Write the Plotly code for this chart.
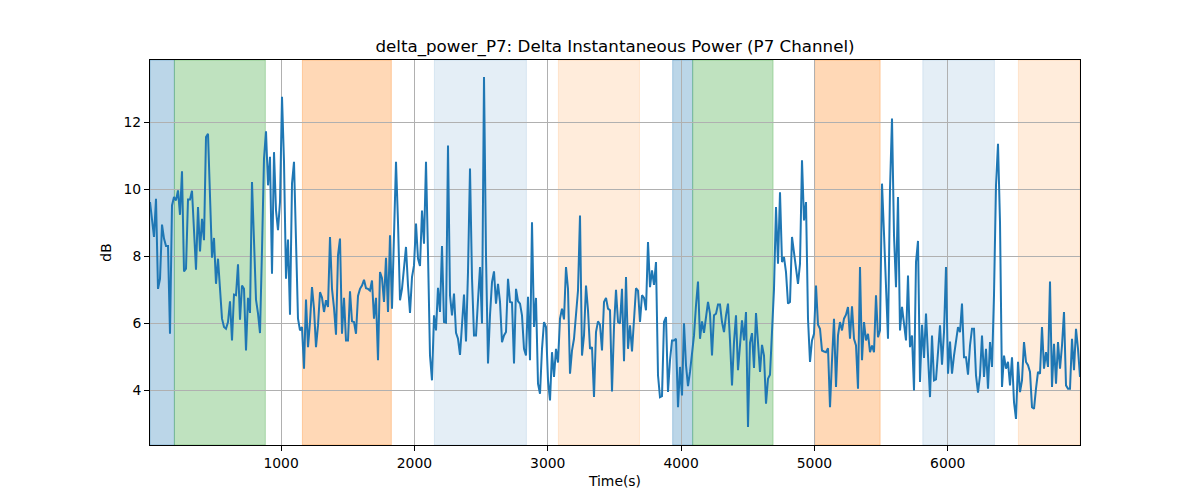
import numpy as np
import plotly.graph_objects as go

# ---- data ----
t_start = 17.0
t_step = 15.0

power_db = [
    9.62, 9.02, 8.58, 9.72, 7.03, 7.33, 8.95, 8.53, 8.31, 8.31,
    5.69, 9.52, 9.77, 9.67, 9.97, 9.24, 10.54, 7.55, 7.63, 9.70,
    9.70, 9.96, 8.8, 7.60, 9.47, 8.15, 9.12, 8.48, 11.56, 11.66,
    9.8, 7.96, 8.55, 7.18, 7.93, 7.03, 6.14, 5.89, 5.84, 6.04,
    6.66, 5.49, 6.86, 6.84, 7.76, 6.11, 7.13, 7.03, 5.19, 6.76,
    6.31, 10.22, 8.63, 6.71, 6.3, 5.71, 8.2, 10.92, 11.73, 10.12,
    # segment 2
    10.97, 7.48, 11.11, 9.37, 8.78, 9.62, 12.76, 10.82, 7.33, 8.50,
    6.26, 10.17, 10.82, 8.33, 6.14, 5.79, 5.89, 4.65, 6.71, 5.29,
    6.04, 7.08, 6.44, 5.29, 5.94, 6.93, 6.77, 6.34, 6.69, 6.49,
    8.58, 7.03, 6.46, 5.66, 8.03, 8.53, 5.69, 6.76, 5.49, 5.49,
    6.96, 6.06, 6.04, 5.69, 6.82, 7.03, 7.13, 7.30, 7.05, 7.03,
    6.98, 7.28, 6.14, 6.76, 4.90, 7.53, 7.35, 6.64, 7.96,
    # segment 3
    6.34, 8.63, 6.44, 8.53, 10.82, 9.02, 6.69, 7.03, 7.63, 8.28,
    7.13, 6.31, 7.38, 7.73, 8.98, 7.93, 7.71, 9.37, 8.38, 10.82,
    8.08, 5.04, 4.30, 6.24, 5.79, 7.06, 6.34, 8.31, 6.04, 6.02,
    11.31, 6.84, 6.24, 6.89, 5.72, 5.54, 5.06, 5.84, 6.86, 5.46,
    7.53, 10.62, 7.35, 5.64, 5.64, 6.69, 7.68, 6.00, 13.35, 8.03,
    4.80, 6.24, 7.23, 7.55, 6.59, 7.18, 6.64, 5.44,
    # segment 4
    5.64, 5.74, 7.33, 6.64, 6.62, 4.80, 7.03, 6.66, 6.59, 6.24,
    5.24, 5.04, 6.79, 4.90, 9.02, 5.89, 6.76, 4.20, 3.90, 5.24,
    6.04, 5.89, 4.30, 3.70, 5.14, 4.40, 5.24, 4.83, 6.14, 6.44,
    6.12, 7.68, 7.03, 4.50, 5.19, 5.54, 6.24, 6.98, 9.22, 5.04,
    5.64, 7.13, 6.39, 5.24, 5.29, 3.80, 5.74, 6.06, 5.96, 5.19,
    6.64, 6.76, 6.44, 6.39, 3.97, 5.89, 7.00, 6.04,
    # segment 5
    6.00, 7.03, 4.87, 7.38, 5.24, 5.94, 5.16, 5.96, 7.05, 6.98,
    6.04, 6.84, 6.76, 6.39, 8.43, 7.08, 7.58, 7.15, 7.83, 4.45,
    3.80, 3.83, 6.04, 6.19, 3.95, 4.90, 5.49, 5.49, 5.54, 3.50,
    4.70, 3.85, 6.00, 4.75, 4.13, 4.55, 5.04, 5.64, 6.54, 7.25,
    5.54, 6.06, 5.72, 6.24, 6.64, 6.29, 5.04, 6.24, 6.29, 6.56,
    6.56, 6.04, 5.74, 6.24, 6.59, 5.49, 4.15, 5.44, 6.24,
    # segment 6
    4.60, 5.39, 6.09, 5.49, 6.34, 2.91, 5.42, 5.71, 4.67, 6.31,
    5.49, 4.55, 5.36, 5.04, 3.60, 4.35, 4.47, 5.84, 7.03, 9.47,
    7.78, 9.91, 7.83, 7.98, 7.53, 6.59, 6.64, 8.58, 8.13, 7.63,
    7.18, 7.78, 10.87, 9.07, 9.62, 6.14, 4.85, 5.49, 5.69, 7.13,
    5.96, 5.84, 5.19, 5.16, 5.14, 5.26, 3.50, 4.90, 6.14, 4.10,
    5.64, 6.04, 5.79, 6.14, 6.26, 6.49, 5.54, 6.51, 5.54,
    # segment 7
    5.34, 4.05, 7.68, 4.90, 6.04, 5.49, 5.69, 5.14, 5.34, 5.14,
    6.84, 5.59, 5.79, 10.17, 8.68, 7.03, 5.54, 10.02, 12.11, 8.63,
    7.08, 9.77, 5.79, 6.49, 6.04, 5.49, 7.43, 5.29, 5.64, 4.00,
    7.83, 8.46, 4.25, 5.96, 4.97, 6.29, 5.04, 3.80, 5.64, 4.30,
    4.33, 5.09, 5.94, 4.77, 5.74, 7.68, 4.50, 5.46, 4.50, 5.04,
    5.44, 5.89, 5.74, 6.59, 4.99, 4.99, 4.47, 5.34,
    # segment 8
    5.84, 5.84, 4.45, 3.93, 4.45, 5.64, 4.40, 5.24, 4.05, 5.44,
    4.70, 6.84, 10.12, 11.36, 9.02, 4.10, 5.04, 4.65, 4.85, 4.15,
    4.99, 3.65, 3.15, 4.85, 3.95, 4.30, 5.44, 4.85, 4.75, 4.55,
    3.50, 3.45, 4.05, 4.55, 4.50, 5.89, 4.65, 5.14, 4.70, 7.25,
    4.10, 5.39, 4.20, 5.44, 4.65, 5.34, 6.34, 4.15, 4.05, 4.05,
    5.54, 4.60, 5.84, 5.24, 4.40,
]

time_s = t_start + t_step * np.arange(len(power_db))

# shaded stage intervals
span_starts = [17, 200, 1160, 2150, 3080, 3937, 4087, 5002, 5813, 6530]
span_ends = [200, 882, 1827, 2840, 3688, 4087, 4690, 5493, 6350, 6992]
span_colors = ["#1f77b4", "#2ca02c", "#ff7f0e", "#1f77b4", "#ff7f0e",
               "#1f77b4", "#2ca02c", "#ff7f0e", "#1f77b4", "#ff7f0e"]
span_alphas = [0.3, 0.3, 0.3, 0.12, 0.15, 0.3, 0.3, 0.3, 0.12, 0.15]

x_ticks = [1000, 2000, 3000, 4000, 5000, 6000]
y_ticks = [4, 6, 8, 10, 12]


def rgba(hex_color, a):
    h = hex_color.lstrip("#")
    r, g, b = int(h[0:2], 16), int(h[2:4], 16), int(h[4:6], 16)
    return f"rgba({r},{g},{b},{a})"


fig = go.Figure()
fig.add_trace(go.Scatter(
    x=time_s, y=power_db, mode="lines",
    line=dict(color="#1f77b4", width=2),
    showlegend=False,
))

for s, e, c, a in zip(span_starts, span_ends, span_colors, span_alphas):
    fig.add_shape(type="rect", xref="x", yref="paper", x0=s, x1=e, y0=0, y1=1,
                  fillcolor=rgba(c, a), line=dict(color=rgba(c, a), width=1),
                  layer="below")

font_family = "DejaVu Sans"
# page body has an 8px margin, so the figure box is offset by 8px
fig.update_layout(
    width=1200, height=500,
    margin=dict(l=142, r=128, t=52, b=63, autoexpand=False),
    paper_bgcolor="white", plot_bgcolor="white",
    font=dict(family=font_family, size=13.9, color="black"),
    title=dict(text="delta_power_P7: Delta Instantaneous Power (P7 Channel)",
               x=0.5, xref="paper", y=1 - 38 / 500, yref="container",
               xanchor="center", yanchor="middle",
               font=dict(family=font_family, size=16.7, color="black")),
    xaxis=dict(range=[time_s[0], time_s[-1]], tickvals=x_ticks,
               showgrid=True, gridcolor="#b0b0b0", gridwidth=1,
               zeroline=False, showline=True, linecolor="black", linewidth=1,
               mirror=True, ticks="outside", ticklen=5, tickwidth=1,
               tickcolor="black", automargin=False,
               tickfont=dict(size=13.9),
               title=dict(text="Time(s)", standoff=6,
                          font=dict(size=13.9))),
    yaxis=dict(range=[2.37, 13.86], tickvals=y_ticks,
               showgrid=True, gridcolor="#b0b0b0", gridwidth=1,
               zeroline=False, showline=True, linecolor="black", linewidth=1,
               mirror=True, ticks="outside", ticklen=5, tickwidth=1,
               tickcolor="black", automargin=False,
               tickfont=dict(size=13.9),
               title=dict(text="dB", standoff=8,
                          font=dict(size=13.9))),
)

fig.write_html("out.html")
